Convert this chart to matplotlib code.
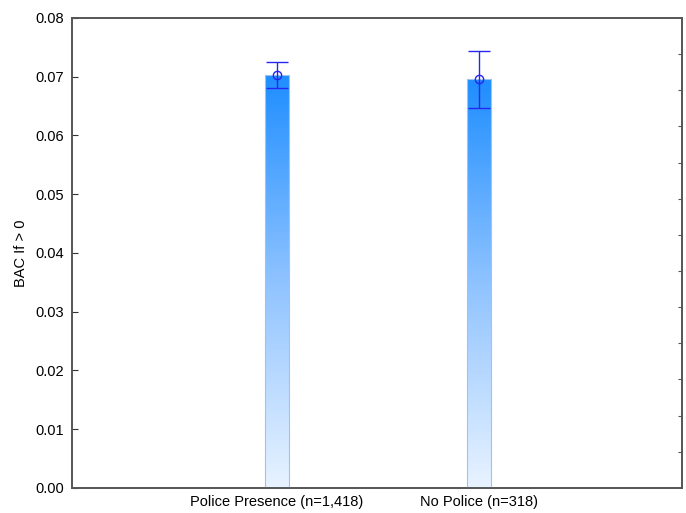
import numpy as np
import matplotlib.pyplot as plt
from matplotlib.colors import LinearSegmentedColormap

plt.rcParams['font.family'] = ['Liberation Sans', 'DejaVu Sans']

# data
categories = ["Police Presence (n=1,418)", "No Police (n=318)"]
means = [0.0703, 0.0696]
lower = [0.0681, 0.0647]
upper = [0.0725, 0.0744]

fig = plt.figure(figsize=(6.86, 5.13), dpi=100)
ax = fig.add_axes([0.105, 0.049, 0.889, 0.916])

x = np.arange(len(categories))
width = 0.12

cmap = LinearSegmentedColormap.from_list("bluegrad", ["#e8f3ff", "#8fc3ff", "#1e8eff"])
grad = np.linspace(0, 1, 256).reshape(-1, 1)

bars = ax.bar(x, means, width=width, color="none", edgecolor="#9cc4f0", linewidth=0.8, zorder=3)
for b in bars:
    x0, y0 = b.get_x(), b.get_y()
    im = ax.imshow(grad, extent=[x0, x0 + b.get_width(), y0, y0 + b.get_height()],
                   origin="lower", cmap=cmap, aspect="auto", zorder=2)
    im.set_clip_path(b)

err = [np.array(means) - np.array(lower), np.array(upper) - np.array(means)]
ax.errorbar(x, means, yerr=err, fmt="o", mfc="none", mec="#2626f0", ms=6,
            ecolor="#2626f0", elinewidth=1.0, capsize=8, capthick=1.0, color="#2626f0", zorder=4)

ax.set_xlim(-1.01, 2.0)
ax.set_ylim(0, 0.08)
ax.set_yticks(np.arange(0, 0.081, 0.01))
ax.set_yticklabels([f"{v:.2f}" for v in np.arange(0, 0.081, 0.01)], fontsize=10.5)
ax.set_xticks(x)
ax.set_xticklabels(categories, fontsize=10.5)
ax.tick_params(axis="both", direction="in", length=4, color="#333333")
ax.tick_params(axis="x", pad=5)
ax.tick_params(axis="y", pad=6)
ax.set_ylabel("BAC If > 0", fontsize=10.5, labelpad=5)

# short ticks on right side
ax2 = ax.twinx()
ax2.set_ylim(0, 13)
ax2.set_yticks(np.arange(1, 13))
ax2.set_yticklabels([])
ax2.tick_params(direction="in", length=3, color="#555555")

for a in (ax, ax2):
    for s in a.spines.values():
        s.set_color("#555555")
        s.set_linewidth(1.2)

fig.savefig("out.png", dpi=100)
